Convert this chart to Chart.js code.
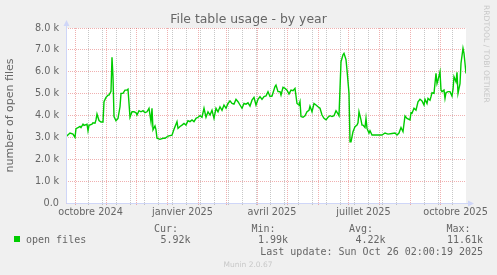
<!DOCTYPE html>
<html>
<head>
<meta charset="utf-8">
<title>File table usage - by year</title>
<script src="https://cdn.jsdelivr.net/npm/chart.js@4/dist/chart.umd.min.js"></script>
<style>
  html, body { margin: 0; padding: 0; background: #f0f0f0; }
  canvas { display: block; }
</style>
</head>
<body>
<canvas id="fileTableChart" width="497" height="275"></canvas>
<script>
// day 0 = 22 Sep 2024, day 400 = 26 Oct 2025 (munin year view is 400 days)
const days = [
  0, 4, 7, 9, 10, 12, 14, 15, 17, 18, 21, 22, 23, 26, 27, 29, 30, 31, 33, 35,
  37, 38, 40, 42, 43, 45, 46, 47, 48, 50, 52, 54, 55, 57, 59, 61, 62, 64, 66, 68,
  70, 71, 73, 75, 77, 79, 81, 83, 85, 86, 87, 89, 90, 91, 94, 97, 99, 102, 106, 108,
  111, 112, 114, 116, 118, 120, 122, 124, 126, 128, 130, 132, 134, 136, 138, 140, 142, 144, 146, 148,
  150, 152, 154, 156, 158, 160, 162, 164, 166, 168, 170, 172, 174, 176, 178, 180, 182, 184, 186, 188,
  190, 192, 194, 196, 198, 200, 202, 204, 206, 209, 210, 212, 214, 215, 217, 219, 221, 223, 225, 227,
  229, 231, 233, 234, 235, 237, 239, 241, 243, 244, 246, 248, 250, 252, 254, 256, 258, 260, 262, 264,
  266, 268, 270, 272, 273, 275, 277, 278, 280, 281, 283, 284, 285, 287, 289, 291, 292, 293, 295, 296,
  297, 299, 300, 301, 303, 304, 306, 308, 311, 313, 316, 319, 322, 326, 329, 331, 333, 335, 337, 339,
  341, 344, 345, 346, 348, 350, 352, 354, 356, 358, 359, 361, 362, 364, 365, 366, 368, 370, 371, 372,
  374, 375, 376, 378, 379, 380, 382, 384, 386, 387, 388, 390, 391, 392, 394, 395, 397, 398, 400
];
const openFiles = [
  3030, 3200, 3150, 3000, 3400, 3450, 3500, 3450, 3600, 3550, 3600, 3300, 3550, 3600, 3670, 3650, 3800, 4070, 3770, 3700,
  3700, 4630, 4830, 4930, 4930, 5100, 6660, 5770, 3950, 3760, 3870, 4400, 5010, 5010, 5160, 5160, 5200, 3920, 4170, 4170,
  4130, 4020, 4220, 4170, 4220, 4130, 4170, 4330, 3720, 4330, 3340, 3520, 3340, 2960, 2910, 2960, 2960, 3060, 3100, 3370,
  3720, 3410, 3500, 3560, 3640, 3560, 3760, 3720, 3800, 3720, 3870, 3920, 3990, 3920, 4330, 3920, 4170, 4020, 4240, 3870,
  4330, 4170, 4400, 4240, 4480, 4330, 4550, 4670, 4550, 4520, 4740, 4630, 4480, 4330, 4550, 4520, 4580, 4430, 4700, 4830,
  4480, 4740, 4860, 4740, 4860, 4890, 5090, 4870, 4890, 5320, 5390, 5090, 5090, 4930, 5290, 5240, 5160, 4980, 5160, 5130,
  5240, 4550, 4480, 4630, 3950, 3920, 3990, 4170, 4240, 4430, 4170, 4550, 4480, 4400, 4330, 4020, 3870, 3800, 3920, 3990,
  3950, 3990, 4220, 4070, 3990, 6460, 6770, 6840, 6550, 6080, 5010, 2800, 2800, 3260, 3490, 3560, 3670, 4170, 3800, 3560,
  3560, 3450, 3870, 3410, 3190, 3300, 3110, 3110, 3110, 3110, 3110, 3200, 3150, 3180, 3200, 3110, 3200, 3450, 3260, 3980,
  3870, 3800, 4130, 4100, 4330, 4240, 4630, 4740, 4670, 4480, 4740, 4550, 4780, 4700, 4860, 5040, 5010, 5930, 5460, 5620,
  6000, 5160, 5090, 5160, 4780, 5040, 5090, 5090, 4890, 5190, 5770, 5540, 5970, 5010, 5460, 6390, 7070, 6840, 5920
];

// first day of each month, in days since 22 Sep 2024
const monthStarts = [9, 40, 70, 101, 132, 160, 191, 221, 252, 282, 313, 344, 374];
// minor grid every two weeks
const minorDays = [22, 36, 50, 64, 78, 92, 106, 120, 134, 148, 162, 176, 190, 204, 218, 232, 246, 260, 274, 288, 302, 316, 330, 358, 372, 386];
// month labels sit in the middle of their month
const labelDays = [24.5, 116.5, 206, 297.5, 389.5];
const labelTexts = ['octobre 2024', 'janvier 2025', 'avril 2025', 'juillet 2025', 'octobre 2025'];

const yMajorTicks = [0, 1000, 2000, 3000, 4000, 5000, 6000, 7000, 8000];
const yMinorTicks = [500, 1500, 2500, 3500, 4500, 5500, 6500, 7500];

const statNames = ['Cur:', 'Min:', 'Avg:', 'Max:'];
const statValues = ['5.92k', '1.99k', '4.22k', '11.61k'];
const lastUpdate = 'Last update: Sun Oct 26 02:00:19 2025';

const LINE_GREEN = '#00cc00';
const MAJOR_GRID = 'rgba(222, 79, 79, 0.45)';
const MINOR_GRID = 'rgba(143, 143, 143, 0.5)';
const AXIS_COLOR = '#cfd6f8';
const FONT_COLOR = '#666666';

const points = days.map((d, i) => ({ x: d, y: openFiles[i] }));

const muninFrame = {
    id: 'muninFrame',
    beforeDraw(chart) {
        const { ctx, chartArea: a } = chart;
        ctx.save();
        ctx.fillStyle = '#f0f0f0';
        ctx.fillRect(0, 0, chart.width, chart.height);
        ctx.fillStyle = '#ffffff';
        ctx.fillRect(a.left, a.top, a.right - a.left, a.bottom - a.top);
        ctx.restore();
    },
    afterDraw(chart) {
        const { ctx, chartArea: a } = chart;
        ctx.save();

        // axes with arrows
        ctx.strokeStyle = AXIS_COLOR;
        ctx.fillStyle = AXIS_COLOR;
        ctx.lineWidth = 1;
        const ax = Math.round(a.left) + 0.5;
        const ay = Math.round(a.bottom) + 0.5;
        ctx.beginPath();
        ctx.moveTo(ax, ay);
        ctx.lineTo(ax, a.top - 4);
        ctx.moveTo(ax, ay);
        ctx.lineTo(a.right + 3, ay);
        ctx.stroke();
        ctx.beginPath();
        ctx.moveTo(ax - 3, a.top - 2);
        ctx.lineTo(ax + 3, a.top - 2);
        ctx.lineTo(ax, a.top - 8);
        ctx.closePath();
        ctx.fill();
        ctx.beginPath();
        ctx.moveTo(a.right + 2, ay - 3);
        ctx.lineTo(a.right + 2, ay + 3);
        ctx.lineTo(a.right + 8, ay);
        ctx.closePath();
        ctx.fill();

        // title
        ctx.fillStyle = FONT_COLOR;
        ctx.font = '12.4px "DejaVu Sans"';
        ctx.textAlign = 'center';
        ctx.textBaseline = 'alphabetic';
        ctx.fillText('File table usage - by year', chart.width / 2, 23);

        // watermark on the right
        ctx.save();
        ctx.translate(484.3, 5);
        ctx.rotate(Math.PI / 2);
        ctx.fillStyle = '#c8c8c8';
        ctx.font = '7.6px "DejaVu Sans"';
        ctx.textAlign = 'left';
        ctx.fillText('RRDTOOL / TOBI OETIKER', 0, 0);
        ctx.restore();

        // legend
        ctx.font = '10px "DejaVu Sans Mono"';
        ctx.fillStyle = FONT_COLOR;
        ctx.textAlign = 'left';
        statNames.forEach((name, i) => ctx.fillText(name, 154 + i * 97.5, 231.5));
        ctx.fillStyle = LINE_GREEN;
        ctx.fillRect(14, 236, 6, 6);
        ctx.fillStyle = FONT_COLOR;
        ctx.fillText('open files', 26, 242.5);
        ctx.textAlign = 'right';
        statValues.forEach((v, i) => ctx.fillText(v, 190.5 + i * 97.5, 242.5));
        ctx.fillText(lastUpdate, 483, 254.7);

        ctx.textAlign = 'center';
        ctx.fillStyle = '#c8c8c8';
        ctx.font = '7.5px "DejaVu Sans"';
        ctx.fillText('Munin 2.0.67', 248, 266.5);
        ctx.restore();
    }
};

const ctx = document.getElementById('fileTableChart').getContext('2d');

new Chart(ctx, {
    type: 'line',
    data: {
        datasets: [{
            label: 'open files',
            data: points,
            borderColor: LINE_GREEN,
            borderWidth: 1.4,
            pointRadius: 0,
            tension: 0,
            fill: false
        }]
    },
    options: {
        responsive: false,
        animation: false,
        devicePixelRatio: 1,
        layout: { padding: { top: 28, right: 31, bottom: 52, left: 0 } },
        plugins: {
            legend: { display: false },
            title: { display: false },
            tooltip: { enabled: false }
        },
        scales: {
            x: {
                type: 'linear',
                min: 0,
                max: 400,
                afterBuildTicks: function (scale) {
                    const all = monthStarts.concat(minorDays, labelDays).sort((a, b) => a - b);
                    scale.ticks = all.map(v => ({ value: v }));
                },
                afterFit: function (scale) { scale.height = 20; },
                border: { display: false, dash: [1, 1] },
                grid: {
                    drawTicks: true,
                    tickLength: 2,
                    lineWidth: 1,
                    color: function (c) {
                        const v = c.tick && c.tick.value;
                        if (monthStarts.includes(v)) return MAJOR_GRID;
                        if (minorDays.includes(v)) return MINOR_GRID;
                        return 'rgba(0,0,0,0)';
                    }
                },
                ticks: {
                    autoSkip: false,
                    maxRotation: 0,
                    minRotation: 0,
                    padding: 2,
                    color: FONT_COLOR,
                    font: { family: 'DejaVu Sans', size: 9.7 },
                    callback: function (value) {
                        const i = labelDays.indexOf(value);
                        return i >= 0 ? labelTexts[i] : '';
                    }
                }
            },
            y: {
                min: 0,
                max: 8000,
                afterBuildTicks: function (scale) {
                    const all = yMajorTicks.concat(yMinorTicks).sort((a, b) => a - b);
                    scale.ticks = all.map(v => ({ value: v }));
                },
                afterFit: function (scale) { scale.width = 66; },
                border: { display: false, dash: [1, 1] },
                grid: {
                    drawTicks: false,
                    lineWidth: 1,
                    color: function (c) {
                        const v = c.tick && c.tick.value;
                        return yMajorTicks.includes(v) ? MAJOR_GRID : MINOR_GRID;
                    }
                },
                title: {
                    display: true,
                    text: 'number of open files',
                    color: FONT_COLOR,
                    font: { family: 'DejaVu Sans', size: 11 },
                    padding: { top: 3.5, bottom: 0 }
                },
                ticks: {
                    padding: 7,
                    color: FONT_COLOR,
                    font: { family: 'DejaVu Sans', size: 9.7 },
                    callback: function (value) {
                        if (!yMajorTicks.includes(value)) return '';
                        return value === 0 ? '0.0' : (value / 1000).toFixed(1) + ' k';
                    }
                }
            }
        }
    },
    plugins: [muninFrame]
});
</script>
</body>
</html>
